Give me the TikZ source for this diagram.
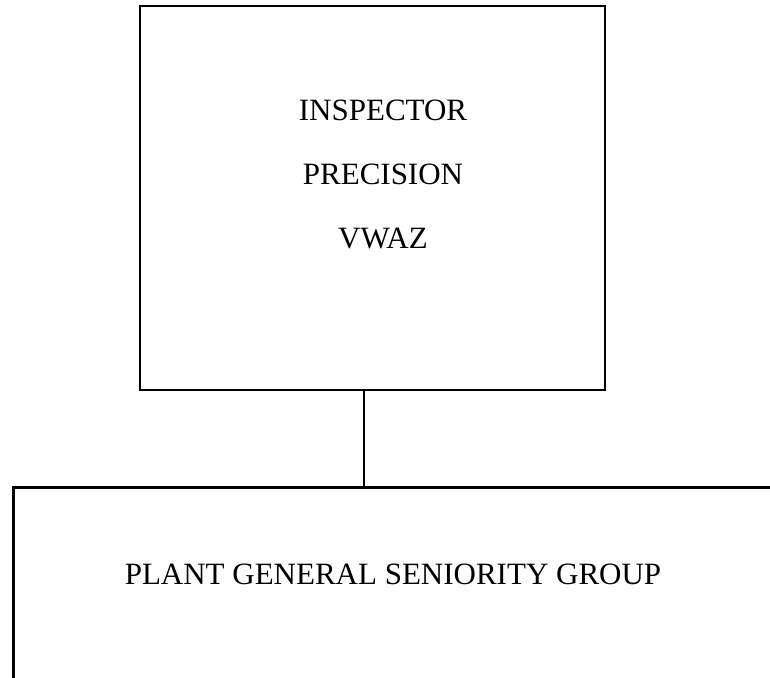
\documentclass[tikz,border=0pt]{standalone}
\usepackage{fontspec}
\setmainfont{Liberation Serif}
\usetikzlibrary{positioning}
\begin{document}
\begin{tikzpicture}[
    x=0.5pt, y=-0.5pt,
    box/.style={rectangle, draw, line width=1.3pt, minimum width=#1},
    lbl/.style={font=\fontsize{15.5}{32}\selectfont, align=center, inner sep=0pt},
    conn/.style={line width=1.3pt}
]
    % cadre
    \clip (0,0) rectangle (770,677);
    \fill[white] (0,0) rectangle (770,677);

    % Boites
    \node[box=232.5pt, minimum height=192pt] (inspector) at (372.5,198) {};
    \node[box=400pt, minimum height=150pt, anchor=north west] (group) at (12,486) {};

    % Textes
    \node[lbl] (inspectortext) at (383,174) {INSPECTOR\\PRECISION\\VWAZ};
    \node[lbl] (grouptext) at (393,574) {PLANT GENERAL SENIORITY GROUP};

    % Liaison
    \coordinate (tap) at (364,390);
    \draw[conn] (tap) -- (tap |- group.north);
\end{tikzpicture}
\end{document}
